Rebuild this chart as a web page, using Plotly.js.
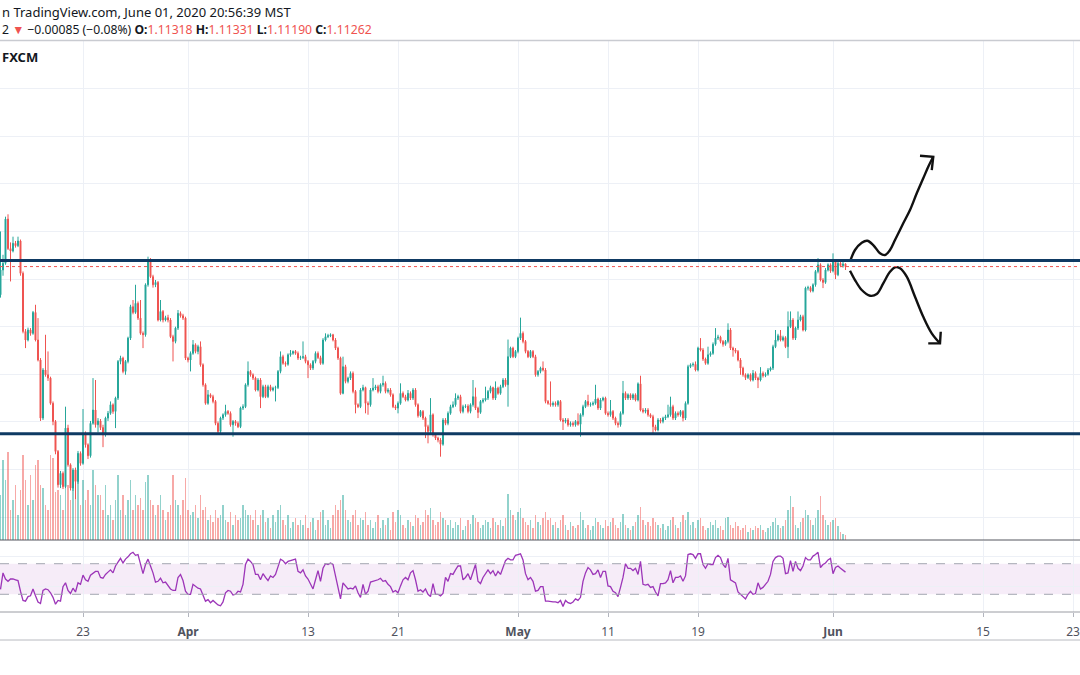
<!DOCTYPE html>
<html><head><meta charset="utf-8">
<script src="https://cdn.plot.ly/plotly-3.0.1.min.js"></script>
<style>html,body{margin:0;padding:0;background:#fff;}#chart{width:1080px;height:675px;}</style>
</head><body><div id="chart"></div>
<script>
// EUR/USD 4H, FXCM
const barOpen=[
1.1067,1.1119,1.1133,1.1226,1.1164,1.1159,1.1175,1.1170,1.1180,1.1112,
1.0990,1.0972,1.0993,1.0986,1.1030,1.0972,1.0930,1.0808,1.0909,1.0899,
1.0892,1.0839,1.0801,1.0738,1.0668,1.0692,1.0664,1.0787,1.0710,1.0661,
1.0699,1.0675,1.0734,1.0713,1.0776,1.0752,1.0729,1.0797,1.0825,1.0794,
1.0802,1.0788,1.0773,1.0808,1.0818,1.0836,1.0822,1.0850,1.0927,1.0934,
1.0906,1.0927,1.0976,1.1042,1.1030,1.1049,1.1018,1.0986,1.0983,1.1088,
1.1140,1.1105,1.1088,1.1093,1.1014,1.1032,1.1014,1.1019,1.1014,1.0979,
1.0969,1.0997,1.1028,1.1023,1.1018,1.0934,1.0930,1.0944,1.0962,1.0948,
1.0958,1.0920,1.0878,1.0839,1.0857,1.0853,1.0843,1.0797,1.0780,1.0808,
1.0815,1.0822,1.0818,1.0794,1.0801,1.0797,1.0790,1.0829,1.0832,1.0878,
1.0906,1.0899,1.0892,1.0867,1.0888,1.0853,1.0874,1.0853,1.0874,1.0867,
1.0871,1.0872,1.0906,1.0937,1.0923,1.0921,1.0941,1.0944,1.0948,1.0944,
1.0934,1.0935,1.0937,1.0927,1.0920,1.0913,1.0927,1.0944,1.0935,1.0923,
1.0972,1.0979,1.0981,1.0983,1.0972,1.0955,1.0934,1.0860,1.0916,1.0885,
1.0892,1.0902,1.0864,1.0836,1.0832,1.0867,1.0872,1.0839,1.0836,1.0867,
1.0871,1.0874,1.0864,1.0878,1.0881,1.0864,1.0867,1.0857,1.0832,1.0829,
1.0839,1.0860,1.0853,1.0846,1.0860,1.0850,1.0867,1.0836,1.0813,1.0822,
1.0808,1.0790,1.0780,1.0815,1.0773,1.0766,1.0762,1.0753,1.0804,1.0797,
1.0818,1.0832,1.0836,1.0850,1.0853,1.0822,1.0832,1.0833,1.0822,1.0836,
1.0853,1.0829,1.0820,1.0843,1.0846,1.0850,1.0864,1.0872,1.0850,1.0871,
1.0860,1.0874,1.0888,1.0878,1.0937,1.0955,1.0937,1.0948,1.0976,1.0986,
1.0969,1.0948,1.0937,1.0948,1.0937,1.0899,1.0906,1.0913,1.0909,1.0843,
1.0839,1.0836,1.0839,1.0836,1.0843,1.0804,1.0801,1.0804,1.0794,1.0797,
1.0794,1.0801,1.0795,1.0815,1.0832,1.0843,1.0836,1.0837,1.0839,1.0848,
1.0829,1.0846,1.0850,1.0818,1.0815,1.0822,1.0808,1.0797,1.0794,1.0818,
1.0860,1.0850,1.0857,1.0850,1.0857,1.0846,1.0880,1.0825,1.0822,1.0825,
1.0815,1.0811,1.0790,1.0783,1.0804,1.0801,1.0808,1.0811,1.0815,1.0832,
1.0808,1.0818,1.0815,1.0822,1.0808,1.0839,1.0916,1.0920,1.0921,1.0909,
1.0955,1.0951,1.0932,1.0923,1.0941,1.0944,1.0963,1.0976,1.0978,1.0969,
1.0963,1.0969,1.0993,1.0955,1.0951,1.0948,1.0930,1.0913,1.0899,1.0893,
1.0899,1.0888,1.0902,1.0892,1.0888,1.0902,1.0897,1.0900,1.0909,1.0913,
1.0958,1.0972,1.0981,1.0972,1.0977,1.0958,1.1000,1.1014,1.0976,1.0997,
1.1014,1.1021,1.0993,1.1081,1.1082,1.1075,1.1088,1.1116,1.1130,1.1098,
1.1093,1.1119,1.1130,1.1117,1.1138,1.1109,1.1133,1.1128,1.11318];
const barHigh=[
1.1200,1.1151,1.1231,1.1236,1.1177,1.1189,1.1180,1.1189,1.1183,1.1116,
1.0995,1.0998,1.0997,1.1033,1.1046,1.1018,1.0934,1.0913,1.0983,1.0948,
1.0895,1.0843,1.0804,1.0741,1.0697,1.0696,1.0832,1.0794,1.0713,1.0703,
1.0704,1.0739,1.0738,1.0827,1.0780,1.0755,1.0802,1.0892,1.0888,1.0808,
1.0806,1.0794,1.0811,1.0823,1.0843,1.0839,1.0853,1.0930,1.0939,1.0937,
1.0930,1.0979,1.1046,1.1056,1.1088,1.1053,1.1056,1.0990,1.1091,1.1147,
1.1144,1.1109,1.1098,1.1096,1.1056,1.1035,1.1023,1.1025,1.1018,1.0983,
1.1000,1.1035,1.1032,1.1027,1.1021,1.0937,1.0948,1.0972,1.0965,1.0962,
1.0969,1.0923,1.0881,1.0867,1.0860,1.0857,1.0846,1.0801,1.0811,1.0818,
1.0836,1.0825,1.0822,1.0804,1.0804,1.0801,1.0832,1.0837,1.0881,1.0927,
1.0909,1.0902,1.0895,1.0892,1.0892,1.0878,1.0878,1.0878,1.0878,1.0874,
1.0876,1.0909,1.0948,1.0941,1.0927,1.0944,1.0951,1.0950,1.0951,1.0948,
1.0939,1.0969,1.0941,1.0930,1.0923,1.0930,1.0948,1.0948,1.0939,1.0976,
1.0986,1.0985,1.0986,1.0985,1.0976,1.0958,1.0937,1.0937,1.0920,1.0895,
1.0906,1.0906,1.0867,1.0839,1.0871,1.0878,1.0874,1.0843,1.0871,1.0892,
1.0878,1.0878,1.0881,1.0897,1.0885,1.0871,1.0871,1.0860,1.0836,1.0843,
1.0881,1.0864,1.0857,1.0867,1.0864,1.0871,1.0871,1.0839,1.0825,1.0825,
1.0811,1.0794,1.0850,1.0818,1.0776,1.0769,1.0766,1.0808,1.0808,1.0822,
1.0836,1.0843,1.0860,1.0857,1.0857,1.0836,1.0837,1.0837,1.0839,1.0888,
1.0872,1.0832,1.0846,1.0850,1.0874,1.0867,1.0876,1.0874,1.0885,1.0874,
1.0878,1.0892,1.0892,1.0973,1.0958,1.0958,1.0951,1.0979,1.1019,1.0990,
1.0972,1.0951,1.0951,1.0951,1.0941,1.0909,1.0916,1.0927,1.0913,1.0846,
1.0885,1.0843,1.0843,1.0846,1.0846,1.0808,1.0808,1.0808,1.0801,1.0801,
1.0804,1.0818,1.0818,1.0836,1.0846,1.0857,1.0841,1.0843,1.0878,1.0851,
1.0850,1.0853,1.0853,1.0822,1.0846,1.0825,1.0811,1.0801,1.0822,1.0886,
1.0864,1.0860,1.0860,1.0860,1.0860,1.0883,1.0897,1.0829,1.0829,1.0829,
1.0818,1.0815,1.0794,1.0808,1.0808,1.0811,1.0815,1.0836,1.0853,1.0836,
1.0822,1.0822,1.0825,1.0825,1.0843,1.0920,1.0923,1.0925,1.0927,1.0958,
1.0976,1.0955,1.0935,1.0958,1.0948,1.0967,1.0997,1.0983,1.0981,1.0972,
1.0972,1.1007,1.0997,1.0958,1.0955,1.0951,1.0934,1.0916,1.0902,1.0902,
1.0902,1.0909,1.0906,1.0895,1.0915,1.0906,1.0904,1.0913,1.0916,1.0962,
1.0993,1.0985,1.0993,1.0981,1.0980,1.1032,1.1032,1.1018,1.1000,1.1032,
1.1025,1.1025,1.1084,1.1086,1.1085,1.1091,1.1119,1.1144,1.1133,1.1102,
1.1123,1.1133,1.1133,1.1154,1.1140,1.1136,1.1136,1.1136,1.11331];
const barLow=[
1.1061,1.1107,1.1130,1.1161,1.1095,1.1156,1.1166,1.1167,1.1107,1.0986,
1.0955,1.0969,1.0981,1.0983,1.0969,1.0927,1.0802,1.0804,1.0895,1.0886,
1.0836,1.0793,1.0732,1.0662,1.0661,1.0659,1.0661,1.0706,1.0656,1.0655,
1.0638,1.0670,1.0708,1.0710,1.0746,1.0722,1.0725,1.0794,1.0788,1.0778,
1.0783,1.0747,1.0769,1.0802,1.0815,1.0817,1.0787,1.0846,1.0921,1.0902,
1.0899,1.0923,1.0972,1.1026,1.1027,1.1014,1.0983,1.0955,1.0979,1.1084,
1.1102,1.1082,1.1083,1.1011,1.1011,1.1009,1.1011,1.1009,1.0976,1.0927,
1.0965,1.0993,1.1019,1.1014,1.0930,1.0925,1.0906,1.0941,1.0944,1.0942,
1.0916,1.0874,1.0836,1.0836,1.0850,1.0839,1.0793,1.0776,1.0777,1.0804,
1.0811,1.0815,1.0790,1.0769,1.0792,1.0787,1.0787,1.0825,1.0829,1.0874,
1.0895,1.0888,1.0864,1.0864,1.0829,1.0850,1.0850,1.0850,1.0864,1.0864,
1.0843,1.0869,1.0902,1.0920,1.0916,1.0918,1.0937,1.0941,1.0941,1.0930,
1.0930,1.0932,1.0923,1.0892,1.0909,1.0909,1.0923,1.0932,1.0920,1.0920,
1.0969,1.0976,1.0978,1.0969,1.0951,1.0930,1.0857,1.0858,1.0881,1.0881,
1.0888,1.0860,1.0818,1.0829,1.0829,1.0864,1.0818,1.0815,1.0832,1.0864,
1.0867,1.0860,1.0860,1.0874,1.0860,1.0860,1.0853,1.0829,1.0825,1.0818,
1.0836,1.0850,1.0843,1.0843,1.0846,1.0846,1.0832,1.0809,1.0810,1.0804,
1.0766,1.0755,1.0776,1.0769,1.0762,1.0757,1.0727,1.0750,1.0793,1.0793,
1.0815,1.0829,1.0832,1.0846,1.0818,1.0818,1.0829,1.0818,1.0818,1.0832,
1.0825,1.0808,1.0817,1.0839,1.0843,1.0846,1.0860,1.0846,1.0846,1.0857,
1.0857,1.0871,1.0874,1.0832,1.0934,1.0934,1.0934,1.0944,1.0972,1.0965,
1.0944,1.0934,1.0934,1.0934,1.0895,1.0895,1.0902,1.0906,1.0839,1.0836,
1.0832,1.0832,1.0832,1.0832,1.0801,1.0783,1.0797,1.0790,1.0790,1.0790,
1.0790,1.0792,1.0769,1.0811,1.0829,1.0832,1.0832,1.0834,1.0836,1.0825,
1.0825,1.0843,1.0815,1.0811,1.0811,1.0804,1.0793,1.0788,1.0790,1.0815,
1.0846,1.0846,1.0846,1.0846,1.0843,1.0843,1.0822,1.0818,1.0818,1.0811,
1.0808,1.0776,1.0780,1.0780,1.0797,1.0797,1.0804,1.0808,1.0811,1.0804,
1.0804,1.0811,1.0811,1.0801,1.0804,1.0836,1.0913,1.0916,1.0906,1.0906,
1.0948,1.0928,1.0920,1.0920,1.0937,1.0941,1.0960,1.0972,1.0965,1.0958,
1.0960,1.0965,1.0951,1.0937,1.0944,1.0927,1.0899,1.0895,1.0888,1.0890,
1.0885,1.0885,1.0888,1.0871,1.0885,1.0893,1.0894,1.0897,1.0906,1.0909,
1.0955,1.0969,1.0969,1.0969,1.0955,1.0934,1.0997,1.0972,1.0972,1.0993,
1.1011,1.0990,1.0990,1.1076,1.1072,1.1072,1.1084,1.1112,1.1095,1.1081,
1.1090,1.1116,1.1113,1.1114,1.1100,1.1106,1.1125,1.1124,1.11190];
const barClose=[
1.1119,1.1133,1.1226,1.1164,1.1159,1.1175,1.1170,1.1180,1.1112,1.0990,
1.0972,1.0993,1.0986,1.1030,1.0972,1.0930,1.0808,1.0909,1.0899,1.0892,
1.0839,1.0801,1.0738,1.0668,1.0692,1.0664,1.0787,1.0710,1.0661,1.0699,
1.0675,1.0734,1.0713,1.0776,1.0752,1.0729,1.0797,1.0825,1.0794,1.0802,
1.0788,1.0773,1.0808,1.0818,1.0836,1.0822,1.0850,1.0927,1.0934,1.0906,
1.0927,1.0976,1.1042,1.1030,1.1049,1.1018,1.0986,1.0983,1.1088,1.1140,
1.1105,1.1088,1.1093,1.1014,1.1032,1.1014,1.1019,1.1014,1.0979,1.0969,
1.0997,1.1028,1.1023,1.1018,1.0934,1.0930,1.0944,1.0962,1.0948,1.0958,
1.0920,1.0878,1.0839,1.0857,1.0853,1.0843,1.0797,1.0780,1.0808,1.0815,
1.0822,1.0818,1.0794,1.0801,1.0797,1.0790,1.0829,1.0832,1.0878,1.0906,
1.0899,1.0892,1.0867,1.0888,1.0853,1.0874,1.0853,1.0874,1.0867,1.0871,
1.0872,1.0906,1.0937,1.0923,1.0921,1.0941,1.0944,1.0948,1.0944,1.0934,
1.0935,1.0937,1.0927,1.0920,1.0913,1.0927,1.0944,1.0935,1.0923,1.0972,
1.0979,1.0981,1.0983,1.0972,1.0955,1.0934,1.0860,1.0916,1.0885,1.0892,
1.0902,1.0864,1.0836,1.0832,1.0867,1.0872,1.0839,1.0836,1.0867,1.0871,
1.0874,1.0864,1.0878,1.0881,1.0864,1.0867,1.0857,1.0832,1.0829,1.0839,
1.0860,1.0853,1.0846,1.0860,1.0850,1.0867,1.0836,1.0813,1.0822,1.0808,
1.0790,1.0780,1.0815,1.0773,1.0766,1.0762,1.0753,1.0804,1.0797,1.0818,
1.0832,1.0836,1.0850,1.0853,1.0822,1.0832,1.0833,1.0822,1.0836,1.0853,
1.0829,1.0820,1.0843,1.0846,1.0850,1.0864,1.0872,1.0850,1.0871,1.0860,
1.0874,1.0888,1.0878,1.0937,1.0955,1.0937,1.0948,1.0976,1.0986,1.0969,
1.0948,1.0937,1.0948,1.0937,1.0899,1.0906,1.0913,1.0909,1.0843,1.0839,
1.0836,1.0839,1.0836,1.0843,1.0804,1.0801,1.0804,1.0794,1.0797,1.0794,
1.0801,1.0795,1.0815,1.0832,1.0843,1.0836,1.0837,1.0839,1.0848,1.0829,
1.0846,1.0850,1.0818,1.0815,1.0822,1.0808,1.0797,1.0794,1.0818,1.0860,
1.0850,1.0857,1.0850,1.0857,1.0846,1.0880,1.0825,1.0822,1.0825,1.0815,
1.0811,1.0790,1.0783,1.0804,1.0801,1.0808,1.0811,1.0815,1.0832,1.0808,
1.0818,1.0815,1.0822,1.0808,1.0839,1.0916,1.0920,1.0921,1.0909,1.0955,
1.0951,1.0932,1.0923,1.0941,1.0944,1.0963,1.0976,1.0978,1.0969,1.0963,
1.0969,1.0993,1.0955,1.0951,1.0948,1.0930,1.0913,1.0899,1.0893,1.0899,
1.0888,1.0902,1.0892,1.0888,1.0902,1.0897,1.0900,1.0909,1.0913,1.0958,
1.0972,1.0981,1.0972,1.0977,1.0958,1.1000,1.1014,1.0976,1.0997,1.1014,
1.1021,1.0993,1.1081,1.1082,1.1075,1.1088,1.1116,1.1130,1.1098,1.1093,
1.1119,1.1130,1.1117,1.1138,1.1109,1.1133,1.1128,1.11318,1.11262];
const volume=[
45,80,60,88,30,40,55,25,50,85, 60,35,65,40,75,80,55,52,35,30,
85,82,48,50,45,30,70,55,40,65, 55,80,35,60,40,50,35,70,55,45,
45,30,55,25,35,20,40,65,30,45, 25,40,60,30,45,35,42,30,58,65,
40,35,25,35,45,30,20,28,35,65, 40,35,25,40,62,30,25,28,35,22,
45,30,33,20,25,18,30,22,25,35, 20,18,28,15,25,20,22,35,30,25,
25,20,30,15,25,30,18,22,12,25, 18,30,35,20,15,25,12,18,22,15,
20,15,25,12,18,22,10,20,28,30, 15,20,12,25,35,30,40,45,30,20,
18,25,30,15,22,20,28,15,20,12, 18,25,12,20,15,22,10,28,18,30,
25,15,12,20,18,14,25,22,15,18, 30,25,32,20,15,18,28,22,20,15,
20,12,18,15,22,10,14,20,16,25, 22,18,12,15,20,18,12,22,18,15,
20,14,22,46,30,25,20,28,32,22, 18,15,20,12,25,18,15,22,28,20,
22,15,18,12,20,25,15,10,18,14, 12,15,28,20,12,15,10,14,22,18,
15,12,20,14,18,22,15,12,18,26, 15,12,10,14,18,25,33,20,15,18,
14,22,18,15,12,16,10,14,20,23, 15,12,18,25,20,28,15,18,12,20,
22,14,10,12,18,15,20,12,14,10, 22,23,15,12,18,14,10,12,15,8,
12,10,14,12,15,10,8,12,14,18, 22,15,12,14,20,30,44,33,15,12,
18,22,30,25,20,15,22,30,44,25, 20,15,18,20,22,14,8,6,5];
const rsi=[
36.5,58,50,47,50,50,49,48,34,22, 21,27,28,37,28,20,18,35,37,36,
32,26,17,22,21,40,45,35,31,38, 33,45,43,55,49,47,55,57,60,60,
52,51,56,59,62,58,67,72,77,71, 76,79,83,85,81,82,69,57,69,76,
67,58,46,47,51,45,46,41,37,35, 35,52,56,48,34,30,30,43,40,38,
37,29,21,23,19,22,19,16,15,20, 32,35,34,29,30,34,33,43,69,76,
73,69,56,56,49,57,52,48,54,52, 56,67,76,74,70,73,74,74,76,60,
58,62,54,50,43,37,49,61,47,64, 70,69,71,69,54,37,24,45,41,37,
38,37,41,32,26,43,30,34,46,47, 47,49,51,47,48,43,40,33,35,32,
41,49,52,49,58,61,49,34,36,33, 37,30,27,44,30,30,28,31,52,47,
57,56,62,67,67,49,52,57,49,60, 69,47,44,52,57,62,57,61,54,60,
56,64,74,77,75,75,81,82,83,75, 57,49,52,47,34,35,40,40,21,21,
20,20,20,19,22,14,22,19,18,20, 24,22,26,47,58,65,62,56,57,62,
52,60,60,41,40,34,32,27,39,52, 70,64,64,61,64,56,73,43,42,43,
39,40,33,28,44,44,45,49,61,45, 52,52,54,47,54,82,83,82,77,83,
83,69,64,70,69,69,78,81,78,69, 65,77,49,47,45,33,30,27,24,30,
34,30,31,45,37,39,43,47,56,73, 78,80,80,77,57,58,74,60,73,64,
61,67,78,75,75,80,82,85,65,69, 71,75,77,57,65,67,64,61,59];
const tickIndex=[33,75,123,159,207,243,279,333,393,429];
const tickText=['23','<b>Apr</b>','13','21','<b>May</b>','11','19','<b>Jun</b>','15','23'];
const resistanceLevel=1.1139, supportLevel=1.0775, lastClose=1.11262;
// hand-drawn arrows (bar index, price)
const upPathX=[339.8,341.8,344.5,346.7,349.1,351.8,353.8,355.8,357.8,361.1,363.8,366.5,369.1,371.1,373.1];
const upPathY=[1.11364,1.1161,1.11763,1.11805,1.11715,1.11541,1.11505,1.1161,1.1182,1.12171,1.1245,1.12801,1.13116,1.13359,1.13569];
const upHeadX=[367.8,373.1,372.5], upHeadY=[1.1359,1.13569,1.1329];
const dnPathX=[339.8,341.8,344.5,347.8,350.5,353.1,355.8,357.8,359.8,362.5,365.8,369.1,372.5,375.8];
const dnPathY=[1.11175,1.1098,1.1077,1.1065,1.10686,1.1091,1.11154,1.11247,1.11225,1.11049,1.10629,1.10209,1.0986,1.0965];
const dnHeadX=[371.1,375.8,376.1], dnHeadY=[1.0965,1.0965,1.09894];

const n=Math.min(barOpen.length,barHigh.length,barLow.length,barClose.length);
const idx=[];for(let i=0;i<n;i++)idx.push(i);
const volColors=volume.map((v,i)=>barClose[i]>=barOpen[i]?'rgba(38,166,154,0.5)':'rgba(239,83,80,0.5)');
const FONT='"Noto Sans","Open Sans",Arial,sans-serif';
const pen={color:'#111',width:2.4};
const traces=[
 {type:'bar',x:idx.slice(0,volume.length),y:volume,marker:{color:volColors,line:{width:0}},width:0.65,xaxis:'x',yaxis:'y',hoverinfo:'skip'},
 {type:'candlestick',x:idx,open:barOpen.slice(0,n),high:barHigh.slice(0,n),low:barLow.slice(0,n),close:barClose.slice(0,n),xaxis:'x',yaxis:'y3',whiskerwidth:0,
  increasing:{line:{color:'#26a69a',width:1},fillcolor:'#26a69a'},decreasing:{line:{color:'#ef5350',width:1},fillcolor:'#ef5350'},hoverinfo:'skip'},
 {type:'scatter',mode:'lines',x:idx.slice(0,rsi.length),y:rsi,xaxis:'x',yaxis:'y2',line:{color:'#9c35b8',width:1.3},hoverinfo:'skip'},
 {type:'scatter',mode:'lines',x:upPathX,y:upPathY,xaxis:'x',yaxis:'y3',line:Object.assign({shape:'spline',smoothing:1},pen),hoverinfo:'skip'},
 {type:'scatter',mode:'lines',x:upHeadX,y:upHeadY,xaxis:'x',yaxis:'y3',line:pen,hoverinfo:'skip'},
 {type:'scatter',mode:'lines',x:dnPathX,y:dnPathY,xaxis:'x',yaxis:'y3',line:Object.assign({shape:'spline',smoothing:1},pen),hoverinfo:'skip'},
 {type:'scatter',mode:'lines',x:dnHeadX,y:dnHeadY,xaxis:'x',yaxis:'y3',line:pen,hoverinfo:'skip'}
];
const H=675, py=p=>1-p/H;
const red='#ef5350';
const layout={
 width:1080,height:675,margin:{l:0,r:0,t:0,b:0},paper_bgcolor:'#fff',plot_bgcolor:'#fff',showlegend:false,boxgap:0.45,bargap:0,
 xaxis:{range:[-0.2,431.8],anchor:'y2',domain:[0,1],tickmode:'array',tickvals:tickIndex,ticktext:tickText,showgrid:true,gridcolor:'#edf0f6',gridwidth:1,
  zeroline:false,showline:false,ticks:'outside',ticklen:4,tickcolor:'#b2b5be',ticklabelstandoff:5,tickfont:{family:FONT,size:12,color:'#50535e'},rangeslider:{visible:false},fixedrange:true},
 yaxis:{domain:[0.2,0.9393],range:[0,500],visible:false,fixedrange:true},
 yaxis3:{overlaying:'y',anchor:'x',side:'right',range:[1.0552,1.1600],tick0:1.0,dtick:0.01,showgrid:true,gridcolor:'#edf0f6',showticklabels:false,ticks:'',zeroline:false,showline:false,fixedrange:true},
 yaxis2:{domain:[0.0933,0.1985],anchor:'x',range:[6.8,99.7],tickmode:'array',tickvals:[40,80],showgrid:true,gridcolor:'#edf0f6',showticklabels:false,ticks:'',zeroline:false,showline:false,fixedrange:true},
 shapes:[
  {type:'rect',xref:'paper',yref:'y2',x0:0,x1:1,y0:30,y1:70,fillcolor:'rgba(156,39,176,0.09)',line:{width:0},layer:'below'},
  {type:'line',xref:'paper',yref:'y2',x0:0,x1:1,y0:70,y1:70,line:{color:'#a3a6b0',width:1,dash:'dash'}},
  {type:'line',xref:'paper',yref:'y2',x0:0,x1:1,y0:30,y1:30,line:{color:'#a3a6b0',width:1,dash:'dash'}},
  {type:'line',xref:'paper',yref:'paper',x0:0,x1:1,y0:py(40.5),y1:py(40.5),line:{color:'#c9cbd1',width:1.5}},
  {type:'line',xref:'paper',yref:'paper',x0:0,x1:1,y0:py(540),y1:py(540),line:{color:'#55575e',width:1}},
  {type:'line',xref:'paper',yref:'paper',x0:0,x1:1,y0:py(612),y1:py(612),line:{color:'#9a9ca3',width:1}},
  {type:'line',xref:'paper',yref:'paper',x0:0,x1:1,y0:py(640),y1:py(640),line:{color:'#b8bac0',width:1}},
  {type:'line',xref:'paper',yref:'y3',x0:0,x1:1,y0:lastClose,y1:lastClose,line:{color:red,width:1,dash:'dot'}},
  {type:'line',xref:'paper',yref:'y3',x0:0,x1:1,y0:resistanceLevel,y1:resistanceLevel,line:{color:'#0f3a63',width:3}},
  {type:'line',xref:'paper',yref:'y3',x0:0,x1:1,y0:supportLevel,y1:supportLevel,line:{color:'#0f3a63',width:3}}
 ],
 annotations:[
  {xref:'paper',yref:'paper',x:0,y:py(12),xanchor:'left',yanchor:'middle',showarrow:false,xshift:1,borderpad:0,
   text:'n TradingView.com, June 01, 2020 20:56:39 MST',font:{family:FONT,size:13,color:'#131722'}},
  {xref:'paper',yref:'paper',x:0,y:py(30),xanchor:'left',yanchor:'middle',showarrow:false,xshift:1,borderpad:0,
   text:'2 <span style="color:'+red+'">▼</span> −0.00085 (−0.08%) <b>O:</b><span style="color:'+red+'">1.11318</span> <b>H:</b><span style="color:'+red+'">1.11331</span> <b>L:</b><span style="color:'+red+'">1.11190</span> <b>C:</b><span style="color:'+red+'">1.11262</span>',
   font:{family:FONT,size:12.2,color:'#131722'}},
  {xref:'paper',yref:'paper',x:0,y:py(57),xanchor:'left',yanchor:'middle',showarrow:false,xshift:1,borderpad:0,
   text:'<b>FXCM</b>',font:{family:FONT,size:13,color:'#131722'}}
 ]
};
Plotly.newPlot('chart',traces,layout,{staticPlot:true,displayModeBar:false});
</script></body></html>
